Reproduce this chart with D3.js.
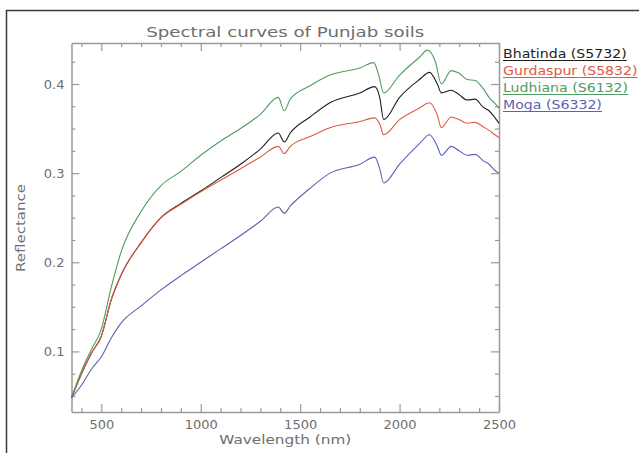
<!DOCTYPE html>
<html>
<head>
<meta charset="utf-8">
<script src="https://cdn.jsdelivr.net/npm/d3@7"></script>
<style>
  html, body { margin: 0; padding: 0; background: #fff; }
  svg { display: block; }
  text { font-family: "DejaVu Sans", sans-serif; }
</style>
</head>
<body>
<svg id="chart" width="639" height="453"></svg>
<script>
// Wavelength samples (nm) and reflectance for each soil
const wlBhatinda  = [350, 400, 450, 500, 550, 600, 700, 800, 900, 1000, 1100, 1200, 1300, 1390, 1420, 1450, 1550, 1650, 1800, 1875, 1900, 1920, 2000, 2100, 2150, 2190, 2210, 2260, 2300, 2340, 2380, 2420, 2450, 2480, 2500];
const bhatinda    = [0.048, 0.075, 0.098, 0.117, 0.158, 0.186, 0.222, 0.25, 0.266, 0.28, 0.295, 0.31, 0.327, 0.345, 0.335, 0.345, 0.363, 0.379, 0.39, 0.397, 0.385, 0.36, 0.385, 0.405, 0.413, 0.400, 0.390, 0.393, 0.388, 0.382, 0.383, 0.374, 0.370, 0.362, 0.356];

const wlGurdaspur = [350, 400, 450, 500, 550, 600, 700, 800, 900, 1000, 1100, 1200, 1300, 1390, 1420, 1450, 1550, 1650, 1800, 1875, 1900, 1920, 2000, 2100, 2150, 2190, 2210, 2260, 2300, 2340, 2380, 2420, 2450, 2480, 2500];
const gurdaspur   = [0.048, 0.075, 0.098, 0.117, 0.158, 0.186, 0.222, 0.25, 0.265, 0.279, 0.292, 0.305, 0.318, 0.33, 0.322, 0.33, 0.341, 0.351, 0.358, 0.362, 0.355, 0.343, 0.36, 0.373, 0.379, 0.365, 0.351, 0.363, 0.360, 0.356, 0.357, 0.352, 0.348, 0.343, 0.34];

const wlLudhiana  = [350, 400, 450, 500, 550, 600, 700, 800, 900, 1000, 1100, 1200, 1300, 1390, 1420, 1450, 1550, 1650, 1800, 1870, 1895, 1920, 2000, 2100, 2140, 2180, 2210, 2260, 2300, 2340, 2380, 2420, 2450, 2480, 2500];
const ludhiana    = [0.048, 0.078, 0.102, 0.125, 0.172, 0.212, 0.257, 0.286, 0.302, 0.32, 0.336, 0.35, 0.366, 0.385, 0.37, 0.383, 0.398, 0.41, 0.418, 0.424, 0.41, 0.39, 0.41, 0.43, 0.438, 0.425, 0.40, 0.415, 0.412, 0.405, 0.404, 0.395, 0.385, 0.378, 0.373];

const wlMoga      = [350, 400, 450, 500, 550, 600, 700, 800, 900, 1000, 1100, 1200, 1300, 1390, 1420, 1450, 1550, 1650, 1800, 1875, 1900, 1920, 2000, 2100, 2150, 2190, 2210, 2260, 2300, 2340, 2380, 2420, 2450, 2480, 2500];
const moga        = [0.048, 0.062, 0.08, 0.094, 0.115, 0.132, 0.151, 0.169, 0.185, 0.20, 0.215, 0.23, 0.246, 0.262, 0.255, 0.263, 0.283, 0.30, 0.31, 0.318, 0.305, 0.289, 0.31, 0.333, 0.343, 0.330, 0.320, 0.330, 0.325, 0.320, 0.321, 0.314, 0.310, 0.303, 0.30];

const seriesNames  = ["Bhatinda (S5732)", "Gurdaspur (S5832)", "Ludhiana (S6132)", "Moga (S6332)"];
const seriesColors = ["#1e1e1e", "#dd5a44", "#4f9d5e", "#5a63b3"];

const xTickValues = [500, 1000, 1500, 2000, 2500];
const yTickValues = [0.1, 0.2, 0.3, 0.4];

const series = [
  { name: seriesNames[0], color: seriesColors[0], wl: wlBhatinda,  v: bhatinda },
  { name: seriesNames[1], color: seriesColors[1], wl: wlGurdaspur, v: gurdaspur },
  { name: seriesNames[2], color: seriesColors[2], wl: wlLudhiana,  v: ludhiana },
  { name: seriesNames[3], color: seriesColors[3], wl: wlMoga,      v: moga }
];

const svg = d3.select("#chart");
const plot = { left: 71.5, right: 499, top: 43, bottom: 412 };

// outer frame
svg.append("rect")
  .attr("x", 6.5).attr("y", 10.5)
  .attr("width", 700).attr("height", 500)
  .attr("fill", "none").attr("stroke", "#3a3a3a").attr("stroke-width", 1.5);

const x = d3.scaleLinear().domain([350, 2500]).range([plot.left, plot.right]);
const y = d3.scaleLinear().domain([0.032, 0.446]).range([plot.bottom, plot.top]);

const axisColor = "#9a9a9a";
const labelColor = "#6e6e6e";

const minorX = d3.range(400, 2500, 100).filter(v => v % 500 !== 0);
const minorY = d3.range(0.05, 0.446, 0.025).filter(v => Math.abs(v * 10 - Math.round(v * 10)) > 1e-6);

function styleAxis(g) {
  g.selectAll(".domain").attr("stroke", axisColor).attr("stroke-width", 1.5);
  g.selectAll(".tick line").attr("stroke", axisColor).attr("stroke-width", 1.2);
  g.selectAll(".tick text").attr("fill", labelColor)
    .style("font-family", "DejaVu Sans, sans-serif").style("font-size", "13px");
}
function minorTicks(g) {
  g.select(".domain").remove();
  g.selectAll("line").attr("stroke", axisColor).attr("stroke-width", 1.2);
}

// bottom axis with labels
const gB = svg.append("g").attr("transform", `translate(0,${plot.bottom})`)
  .call(d3.axisBottom(x).tickValues(xTickValues).tickSizeInner(-8).tickSizeOuter(0).tickPadding(8).tickFormat(d3.format("d")));
styleAxis(gB);
svg.append("g").attr("transform", `translate(0,${plot.bottom})`)
  .call(d3.axisBottom(x).tickValues(minorX).tickSizeInner(-4).tickSizeOuter(0).tickFormat(""))
  .call(minorTicks);

// top axis, ticks only
const gT = svg.append("g").attr("transform", `translate(0,${plot.top})`)
  .call(d3.axisTop(x).tickValues(xTickValues).tickSizeInner(-8).tickSizeOuter(0).tickFormat(""));
styleAxis(gT);
svg.append("g").attr("transform", `translate(0,${plot.top})`)
  .call(d3.axisTop(x).tickValues(minorX).tickSizeInner(-4).tickSizeOuter(0).tickFormat(""))
  .call(minorTicks);

// left axis with labels
const gL = svg.append("g").attr("transform", `translate(${plot.left},0)`)
  .call(d3.axisLeft(y).tickValues(yTickValues).tickSizeInner(-8).tickSizeOuter(0).tickPadding(7).tickFormat(d3.format(".1f")));
styleAxis(gL);
svg.append("g").attr("transform", `translate(${plot.left},0)`)
  .call(d3.axisLeft(y).tickValues(minorY).tickSizeInner(-4).tickSizeOuter(0).tickFormat(""))
  .call(minorTicks);

// right axis, ticks only
const gR = svg.append("g").attr("transform", `translate(${plot.right},0)`)
  .call(d3.axisRight(y).tickValues(yTickValues).tickSizeInner(-8).tickSizeOuter(0).tickFormat(""));
styleAxis(gR);
svg.append("g").attr("transform", `translate(${plot.right},0)`)
  .call(d3.axisRight(y).tickValues(minorY).tickSizeInner(-4).tickSizeOuter(0).tickFormat(""))
  .call(minorTicks);

// reflectance curves
const line = d3.line().x(d => x(d[0])).y(d => y(d[1])).curve(d3.curveMonotoneX);
svg.append("g").selectAll("path").data(series).join("path")
  .attr("d", s => line(s.wl.map((w, i) => [w, s.v[i]])))
  .attr("fill", "none")
  .attr("stroke", s => s.color)
  .attr("stroke-width", 1.1)
  .attr("stroke-linejoin", "round");

// title
svg.append("text")
  .attr("x", (plot.left + plot.right) / 2).attr("y", 37)
  .attr("text-anchor", "middle")
  .attr("fill", labelColor)
  .style("font-size", "14px")
  .attr("textLength", 278).attr("lengthAdjust", "spacingAndGlyphs")
  .text("Spectral curves of Punjab soils");

// axis titles
svg.append("text")
  .attr("x", (plot.left + plot.right) / 2).attr("y", 444)
  .attr("text-anchor", "middle")
  .attr("fill", labelColor)
  .style("font-size", "13px")
  .attr("textLength", 132).attr("lengthAdjust", "spacingAndGlyphs")
  .text("Wavelength (nm)");

svg.append("text")
  .attr("transform", "translate(25,228) rotate(-90)")
  .attr("text-anchor", "middle")
  .attr("fill", labelColor)
  .style("font-size", "13px")
  .attr("textLength", 88).attr("lengthAdjust", "spacingAndGlyphs")
  .text("Reflectance");

// legend: underlined coloured labels to the right of the plot
const legend = svg.append("g").attr("transform", `translate(503,0)`);
const rowY = [58, 75, 92, 109];
series.forEach((s, i) => {
  const t = legend.append("text")
    .attr("x", 0).attr("y", rowY[i])
    .attr("fill", s.color)
    .style("font-size", "12.5px")
    .text(s.name);
  const w = t.node().getComputedTextLength() * 1.13;
  t.attr("textLength", w).attr("lengthAdjust", "spacingAndGlyphs");
  legend.append("line")
    .attr("x1", 0).attr("x2", w)
    .attr("y1", rowY[i] + 2.5).attr("y2", rowY[i] + 2.5)
    .attr("stroke", s.color).attr("stroke-width", 1);
});
</script>
</body>
</html>
